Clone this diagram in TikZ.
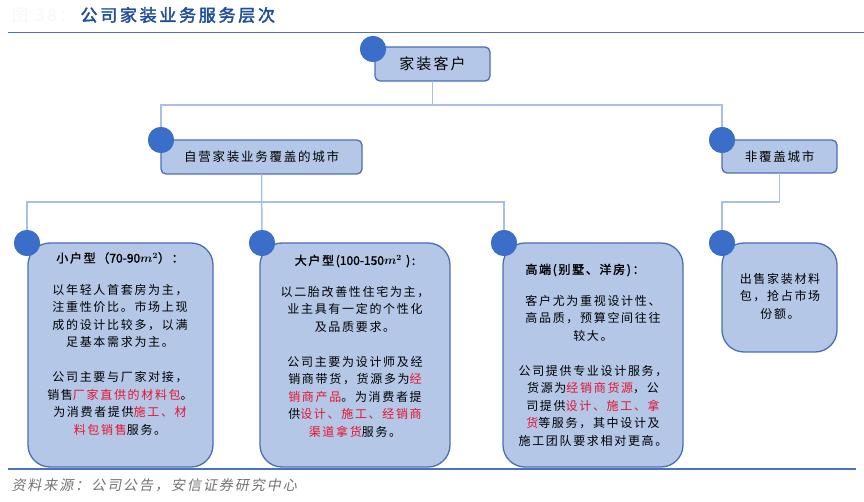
\documentclass[tikz,border=0pt]{standalone}
\usepackage{fontspec}
\usepackage{amsmath}
\newfontfamily\cjk[AutoFakeBold=1.6,LetterSpace=14]{Noto Sans CJK SC}
\newfontfamily\cjktitle[AutoFakeBold=2.2,LetterSpace=16]{Noto Sans CJK SC}
\newfontfamily\cjksrc[FakeSlant=0.2,LetterSpace=14]{Noto Sans CJK SC}
\setmainfont{Noto Sans CJK SC}
\definecolor{titleblue}{HTML}{1F4E9A}
\definecolor{ruleblue}{HTML}{4A72C0}
\definecolor{boxfill}{HTML}{B4C7E7}
\definecolor{boxline}{HTML}{4A6FB8}
\definecolor{dotblue}{HTML}{3A6EC8}
\definecolor{linkblue}{HTML}{A9BFE6}
\definecolor{hotred}{HTML}{E8122D}
\newcommand{\hl}[1]{\textcolor{hotred}{#1}}
\newcommand{\num}[1]{{\addfontfeature{LetterSpace=0}#1}}

\begin{document}
\begin{tikzpicture}[x=1pt,y=-1pt,
  headbox/.style={draw=boxline,fill=boxfill,line width=1.3pt,rounded corners=5pt,
    inner sep=0pt,font=\cjk\fontsize{12.5}{14}\selectfont},
  infobox/.style={draw=boxline,fill=boxfill,line width=1.3pt,rounded corners=22pt},
  dot/.style={circle,fill=dotblue,minimum size=26pt,inner sep=0pt},
  link/.style={draw=linkblue,line width=1.5pt},
  body/.style={align=center,inner sep=0pt,font=\cjk\fontsize{12}{17.5}\selectfont}]
\useasboundingbox (0,0) rectangle (864,502);

%heading and rules
\node[anchor=west,text=black!3,font=\cjktitle\fontsize{17}{20}\selectfont] (fig) at (8,15) {图 38：};
\node[anchor=west,text=titleblue,font=\cjktitle\fontsize{17}{20}\selectfont] (title) at (77,15) {\bfseries 公司家装业务服务层次};
\draw[ruleblue,line width=1.2pt] (8,32.5) -- (864,32.5);
\draw[ruleblue,line width=1.2pt] (8,469) -- (856,469);
\node[anchor=west,text=black!55,font=\cjksrc\fontsize{14}{16}\selectfont] (src) at (8,485) {资料来源：公司公告，安信证券研究中心};

%top level
\path[headbox] (375,47) rectangle (490,81);
\node[font=\cjk\fontsize{15}{17}\selectfont] (root) at (432.5,64) {家装客户};
\coordinate (rootb) at (432.5,81);

%second level
\path[headbox] (161,140) rectangle (362,174);
\node[font=\cjk\fontsize{12.5}{14}\selectfont] (own) at (261.5,157) {自营家装业务覆盖的城市};
\coordinate (ownb) at (261.5,174);
\path[headbox] (722,140) rectangle (837,173);
\node[font=\cjk\fontsize{12.5}{14}\selectfont] (other) at (779.5,156.5) {非覆盖城市};
\coordinate (otherb) at (779.5,173);

%third level boxes
\path[infobox] (28,243) rectangle (213,467);
\path[infobox] (260,243) rectangle (450,467);
\path[infobox] (503,243) rectangle (683,467);
\path[infobox] (722,243) rectangle (837,352);

%dots
\node[dot] (d0) at (373,49) {};
\node[dot] (d1) at (161,140) {};
\node[dot] (d2) at (722,140) {};
\node[dot] (d3) at (27,243) {};
\node[dot] (d4) at (262,243) {};
\node[dot] (d5) at (504,243) {};
\node[dot] (d6) at (722,243) {};

%connectors
\draw[link] (rootb) |- (161,105) -- (d1);
\draw[link] (rootb) |- (722,105) -- (d2);
\draw[link] (ownb) -- (d4);
\draw[link] (ownb) |- (27,202) -- (d3);
\draw[link] (ownb) |- (504,202) -- (d5);
\draw[link] (otherb) |- (722,202) -- (d6);
\foreach \d in {d0,d1,d2,d3,d4,d5,d6} \node[dot] at (\d) {};

%texts of small flats
\node[body] (smallh) at (120,258) {\bfseries 小户型（\num{70-90}$\boldsymbol{m^2}$）：};
\node[body,anchor=north] (small) at (120,284) {以年轻人首套房为主，\\注重性价比。市场上现\\成的设计比较多，以满\\足基本需求为主。\\[17.5pt]
公司主要与厂家对接，\\销售\hl{厂家直供的材料包}。\\为消费者提供\hl{施工、材}\\\hl{料包销售}服务。};

%texts of large flats
\node[body] (bigh) at (355,261) {\bfseries 大户型(\num{100-150}$\boldsymbol{m^2}$ ):};
\node[body,anchor=north] (big) at (355,286) {以二胎改善性住宅为主，\\业主具有一定的个性化\\及品质要求。\\[17.5pt]
公司主要为设计师及经\\销商带货，货源多为\hl{经}\\\hl{销商产品}。为消费者提\\供\hl{设计、施工、经销商}\\\hl{渠道拿货}服务。};

%texts of villas
\node[body] (highh) at (585,270) {\bfseries 高端(别墅、洋房)：};
\node[body,anchor=north] (high) at (593,295) {客户尤为重视设计性、\\高品质，预算空间往往\\较大。\\[17.5pt]
公司提供专业设计服务，\\货源为\hl{经销商货源}，公\\司提供\hl{设计、施工、拿}\\\hl{货}等服务，其中设计及\\施工团队要求相对更高。};

%texts of other cities
\node[body,anchor=north] (sell) at (780,273) {出售家装材料\\包，抢占市场\\份额。};
\end{tikzpicture}
\end{document}
